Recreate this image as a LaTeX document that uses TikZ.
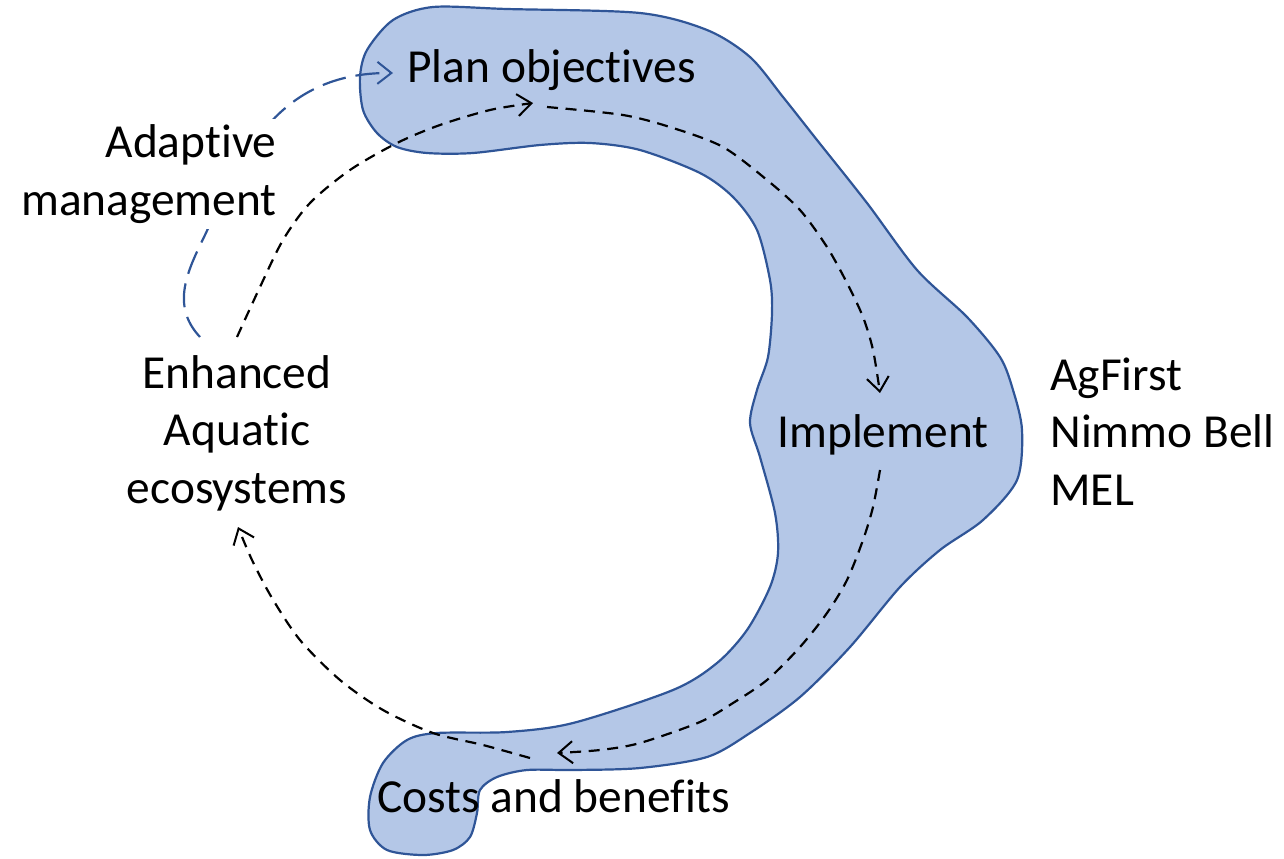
\documentclass[tikz,border=0pt]{standalone}
\usepackage{fontspec}
\setmainfont{Carlito}[Ligatures=NoCommon]
\usetikzlibrary{arrows.meta}
\definecolor{blobfill}{HTML}{B4C7E7}
\definecolor{blobline}{HTML}{2F5597}
\pgfdeclarelayer{blobl}
\pgfdeclarelayer{linel}
\pgfsetlayers{blobl,linel,main}
\begin{document}
\begin{tikzpicture}[x=0.5pt,y=-0.5pt,
  lbl/.style={inner sep=0pt, font=\fontsize{23.7}{28.7}\selectfont},
  flow/.style={draw=black, line width=1.1pt, dash pattern=on 5.5pt off 3.8pt,
    -{Straight Barb[length=7pt,width=11pt,line width=1pt]}},
  feedback/.style={draw=blobline, line width=1.1pt, dash pattern=on 12pt off 5pt,
    -{Straight Barb[length=7pt,width=11pt,line width=1pt]}},
  blob/.style={fill=blobfill, draw=blobline, line width=1.1pt}]
\useasboundingbox (0,0) rectangle (1284,858);

% blob
\begin{pgfonlayer}{blobl}
\path[blob] plot[smooth cycle, tension=0.5] coordinates {
 (433,7) (507,9) (640,13) (707,30) (750,57) (783,97) (817,140) (867,203)
 (917,270) (967,317) (1000,357) (1013,390) (1022,430) (1017,480) (983,520)
 (940,550) (900,587) (850,647) (800,697) (750,733) (707,757) (640,768)
 (573,770) (527,770) (497,777) (480,790) (477,813) (470,837) (453,850)
 (423,855) (387,850) (370,830) (370,797) (383,763) (407,740) (437,733)
 (507,732) (573,723) (673,690) (717,663) (747,630) (770,587) (778,553)
 (775,513) (760,457) (750,423) (757,390) (768,357) (772,313) (770,280)
 (757,230) (733,197) (700,173) (640,150) (590,143) (540,145) (473,153)
 (427,153) (397,147) (377,133) (363,110) (360,77) (367,50) (393,20)};
\end{pgfonlayer}

% text (multi-line nodes: base = baseline of last line)
\node[lbl, anchor=base west] (plan) at (407,82) {Plan objectives};
\node[lbl, anchor=base west] (impl) at (777,447) {Implement};
\node[lbl, anchor=base west] (cost) at (377,812) {Costs and benefits};
\node[lbl, anchor=base, align=center] (enh) at (237,503) {Enhanced\\Aquatic\\ecosystems};
\node[lbl, anchor=base west, align=left] (agents) at (1050,505) {AgFirst\\Nimmo Bell\\MEL};
\node[lbl, anchor=base east, align=right, fill=white, inner sep=3pt] (adapt) at (283,215) {Adaptive\\management};

% port coordinates
\coordinate (enhA) at (237,337);
\coordinate (planIn) at (533,103);
\coordinate (planOut) at (547,107);
\coordinate (implIn) at (880,393);
\coordinate (implOut) at (880,470);
\coordinate (costIn) at (557,753);
\coordinate (costOut) at (530,758);
\coordinate (enhIn) at (238,527);
\coordinate (enhFb) at (200,337);
\coordinate (planFb) at (393,73);

% cycle connectors
\draw[flow] plot[smooth] coordinates {(enhA) (260,287) (283,240) (310,203) (350,170)
  (397,143) (440,125) (490,110) (planIn)};
\draw[flow] plot[smooth] coordinates {(planOut) (623,115) (673,128) (723,147) (767,180)
  (800,210) (827,247) (847,283) (863,317) (873,350) (implIn)};
\draw[flow] plot[smooth] coordinates {(implOut) (873,507) (863,540) (847,580) (827,613)
  (800,647) (767,680) (733,703) (700,722) (640,743) (600,750) (costIn)};
\draw[flow] plot[smooth] coordinates {(costOut) (483,745) (433,733) (383,710) (340,680)
  (300,640) (272,598) (252,560) (enhIn)};

% adaptive management loop
\begin{pgfonlayer}{linel}
\draw[feedback] (enhFb) .. controls (170,305) and (188,270) .. (205,235)
  .. controls (240,160) and (275,72) .. (planFb);
\end{pgfonlayer}
\end{tikzpicture}
\end{document}
